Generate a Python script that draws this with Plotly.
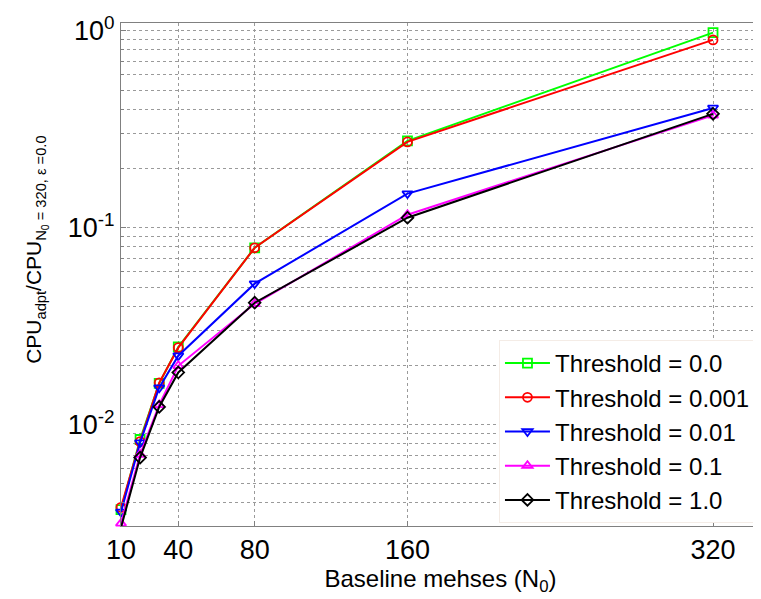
import plotly.graph_objects as go

x_vals = [10, 20, 30, 40, 80, 160, 320]
thr_0_0 = [0.0037, 0.0084, 0.0162, 0.0248, 0.0791, 0.2765, 0.98]
thr_0_001 = [0.0038, 0.0082, 0.0163, 0.0246, 0.0791, 0.273, 0.90]
thr_0_01 = [0.0036, 0.0081, 0.0154, 0.0224, 0.052, 0.149, 0.406]
thr_0_1 = [0.00315, 0.00705, 0.0126, 0.0199, 0.0411, 0.1165, 0.372]
thr_1_0 = [0.0030, 0.0068, 0.0123, 0.0184, 0.0416, 0.1124, 0.379]

series_names = ["Threshold = 0.0", "Threshold = 0.001", "Threshold = 0.01",
                "Threshold = 0.1", "Threshold = 1.0"]
series_vals = [thr_0_0, thr_0_001, thr_0_01, thr_0_1, thr_1_0]
colors = ["#00FF00", "#FF0000", "#0000FF", "#FF00FF", "#000000"]
symbols = ["square-open", "circle-open", "triangle-down-open", "triangle-up-open", "diamond-open"]

x_ticks = [10, 40, 80, 160, 320]
y_ticks = [1, 0.1, 0.01]
y_ticktext = ["10<sup>0</sup>", "10<sup>-1</sup>", "10<sup>-2</sup>"]
y_minor = [m * 10 ** e for e in (-3, -2, -1) for m in range(2, 10)]
y_title = "CPU<sub>adpt</sub>/CPU<sub>N<sub>0</sub> = 320, ε =0.0</sub>"

fig = go.Figure()
for name, vals, c, s in zip(series_names, series_vals, colors, symbols):
    fig.add_trace(go.Scatter(
        x=x_vals, y=vals, name=name, mode="lines+markers",
        line=dict(color=c, width=2),
        marker=dict(symbol=s, size=9, color=c, line=dict(color=c, width=1.8)),
        cliponaxis=False,
    ))

# the page body adds an 8px margin, so the figure is sized to compensate
fig.update_layout(
    width=753, height=591,
    margin=dict(l=113, r=1, t=15, b=73),
    paper_bgcolor="white", plot_bgcolor="white",
    font=dict(family="Arial, Liberation Sans, sans-serif", size=24, color="black"),
    showlegend=True,
    legend=dict(
        x=0.5915, xanchor="left", y=0.006, yanchor="bottom",
        bgcolor="white", bordercolor="#f4ece6", borderwidth=1,
        font=dict(size=24), tracegroupgap=0, itemwidth=45,
    ),
    annotations=[dict(
        text=y_title, xref="paper", yref="paper", x=-0.133, y=0.549,
        xanchor="center", yanchor="middle", textangle=-90, showarrow=False,
        font=dict(size=21),
    )],
)

fig.update_xaxes(
    range=[10, 344.6], tickvals=x_ticks, ticktext=[str(t) for t in x_ticks],
    tickfont=dict(size=27),
    showgrid=True, gridcolor="#9a9a9a", griddash="dot", gridwidth=1,
    showline=True, linecolor="#808080", linewidth=1, mirror=True,
    ticks="inside", ticklen=5, tickcolor="#808080",
    zeroline=False,
    title=dict(text="Baseline mehses (N<sub>0</sub>)", font=dict(size=24), standoff=3),
)
fig.update_yaxes(
    type="log", range=[-2.515, 0.04],
    tickvals=y_ticks, ticktext=y_ticktext,
    tickfont=dict(size=27),
    showgrid=True, gridcolor="#9a9a9a", griddash="dot", gridwidth=1,
    minor=dict(tickvals=y_minor, showgrid=True, gridcolor="#9a9a9a", griddash="dot",
               gridwidth=1, ticks="inside", ticklen=3, tickcolor="#808080"),
    showline=True, linecolor="#808080", linewidth=1, mirror=True,
    ticks="inside", ticklen=5, tickcolor="#808080",
    zeroline=False,
)

fig.write_html("out.html")
